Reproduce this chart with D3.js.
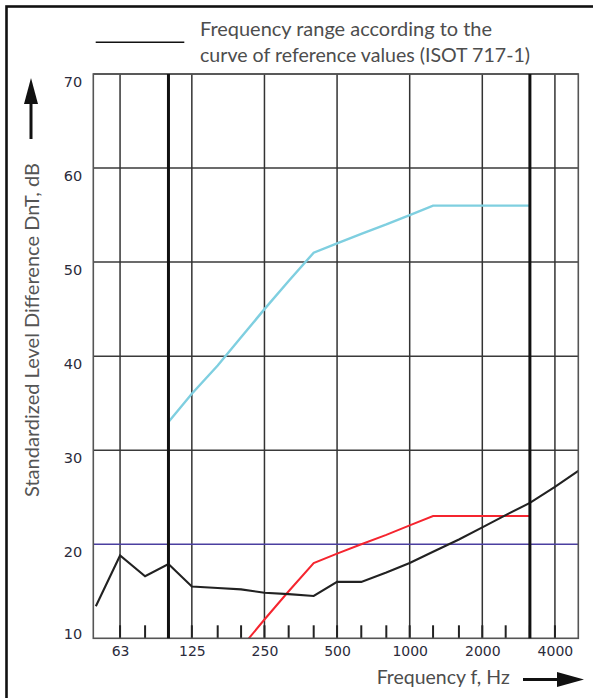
<!DOCTYPE html>
<html>
<head>
<meta charset="utf-8">
<script src="https://cdn.jsdelivr.net/npm/d3@7"></script>
<style>
  body { margin: 0; background: #fff; }
</style>
</head>
<body>
<div id="chart"></div>
<script>
// third-octave bands (Hz) and the measured curve
var bands = [50, 63, 80, 100, 125, 160, 200, 250, 315, 400, 500, 630, 800, 1000, 1250, 1600, 2000, 2500, 3150, 4000, 5000];
var measured = [13.4, 18.8, 16.6, 17.9, 15.5, 15.35, 15.2, 14.85, 14.7, 14.5, 16.0, 16.0, 17.0, 18.0, 19.2, 20.5, 21.8, 23.1, 24.4, 26.1, 27.8];

// reference curve (ISO 717-1) and the shifted reference
var refBands = [100, 125, 160, 200, 250, 315, 400, 500, 630, 800, 1000, 1250, 1600, 2000, 2500, 3150];
var reference = [33, 36, 39, 42, 45, 48, 51, 52, 53, 54, 55, 56, 56, 56, 56, 56];
var shifted = [0, 3, 6, 9, 12, 15, 18, 19, 20, 21, 22, 23, 23, 23, 23, 23];

// axes
var tickBands = [63, 80, 100, 125, 160, 200, 250, 315, 400, 500, 630, 800, 1000, 1250, 1600, 2000, 2500, 3150, 4000];
var labelFreqs = [63, 125, 250, 500, 1000, 2000, 4000];
var gridFreqs = [63, 125, 250, 500, 1000, 2000, 4000];
var rangeFreqs = [100, 3150];
var yTicks = [10, 20, 30, 40, 50, 60, 70];
var targetLevel = 20;

var W = 593, H = 698;
// plot box (note: "top" is reserved on window, so prefixed names)
var pLeft = 93.3, pRight = 578.3, pTop = 74, pBottom = 638.3;

var svg = d3.select("#chart")
  .append("svg")
    .attr("width", W)
    .attr("height", H)
    .style("display", "block");

svg.append("rect").attr("width", W).attr("height", H).attr("fill", "#fff");

// outer frame (runs off the right and bottom)
svg.append("rect")
  .attr("x", 6.5).attr("y", 6.5)
  .attr("width", 700).attr("height", 800)
  .attr("fill", "none")
  .attr("stroke", "#111")
  .attr("stroke-width", 2.6);

var x = d3.scaleLog().domain([48.8, 5000]).range([pLeft, pRight]);
var y = d3.scaleLinear().domain([10, 70]).range([pBottom, pTop]);

svg.append("defs").append("clipPath").attr("id", "plotclip")
  .append("rect")
    .attr("x", pLeft).attr("y", pTop)
    .attr("width", pRight - pLeft).attr("height", pBottom - pTop);

// horizontal grid
svg.append("g")
  .selectAll("line")
  .data(yTicks.filter(function(d) { return d !== 10 && d !== targetLevel; }))
  .enter()
  .append("line")
    .attr("x1", pLeft).attr("x2", pRight)
    .attr("y1", function(d) { return y(d); })
    .attr("y2", function(d) { return y(d); })
    .attr("stroke", "#3a3a3a")
    .attr("stroke-width", 1.5);

// vertical grid
svg.append("g")
  .selectAll("line")
  .data(gridFreqs)
  .enter()
  .append("line")
    .attr("x1", function(d) { return x(d); })
    .attr("x2", function(d) { return x(d); })
    .attr("y1", pTop).attr("y2", pBottom)
    .attr("stroke", "#333")
    .attr("stroke-width", 1.5);

// small third-octave ticks
svg.append("g")
  .selectAll("line")
  .data(tickBands)
  .enter()
  .append("line")
    .attr("x1", function(d) { return x(d); })
    .attr("x2", function(d) { return x(d); })
    .attr("y1", pBottom - 13).attr("y2", pBottom)
    .attr("stroke", "#222")
    .attr("stroke-width", 2);

// 20 dB line
svg.append("line")
  .attr("x1", pLeft).attr("x2", pRight)
  .attr("y1", y(targetLevel)).attr("y2", y(targetLevel))
  .attr("stroke", "#4b3fa0")
  .attr("stroke-width", 1.4);

var line = d3.line()
  .x(function(d) { return x(d[0]); })
  .y(function(d) { return y(d[1]); });

var curves = svg.append("g").attr("clip-path", "url(#plotclip)");

curves.append("path")
  .datum(d3.zip(refBands, reference))
  .attr("d", line)
  .attr("fill", "none")
  .attr("stroke", "#7fcfe0")
  .attr("stroke-width", 2.4);

curves.append("path")
  .datum(d3.zip(refBands, shifted))
  .attr("d", line)
  .attr("fill", "none")
  .attr("stroke", "#f5252f")
  .attr("stroke-width", 2);

curves.append("path")
  .datum(d3.zip(bands, measured))
  .attr("d", line)
  .attr("fill", "none")
  .attr("stroke", "#222")
  .attr("stroke-width", 2.1);

// plot border
svg.append("rect")
  .attr("x", pLeft).attr("y", pTop)
  .attr("width", pRight - pLeft).attr("height", pBottom - pTop)
  .attr("fill", "none")
  .attr("stroke", "#555")
  .attr("stroke-width", 1.6);

// thick lines marking the frequency range
svg.append("g")
  .selectAll("line")
  .data(rangeFreqs)
  .enter()
  .append("line")
    .attr("x1", function(d) { return x(d); })
    .attr("x2", function(d) { return x(d); })
    .attr("y1", pTop).attr("y2", pBottom)
    .attr("stroke", "#111")
    .attr("stroke-width", 3);

// y axis labels
var yAxis = svg.append("g")
  .attr("transform", "translate(" + pLeft + ",0)")
  .call(d3.axisLeft(y).tickValues(yTicks).tickSize(0).tickPadding(11));
yAxis.select(".domain").remove();
yAxis.selectAll("text")
  .attr("dy", function(d) { return d === 10 ? "0" : "12"; })
  .attr("font-family", "DejaVu Sans")
  .attr("font-size", 14.5)
  .attr("fill", "#2b2b3b");

// x axis labels
var xAxis = svg.append("g")
  .attr("transform", "translate(0," + pBottom + ")")
  .call(d3.axisBottom(x).tickValues(labelFreqs).tickFormat(d3.format("d")).tickSize(0));
xAxis.select(".domain").remove();
xAxis.selectAll("text")
  .attr("y", 18)
  .attr("dy", 0)
  .attr("font-family", "DejaVu Sans")
  .attr("font-size", 14)
  .attr("fill", "#2b2b3b");

// axis titles
svg.append("text")
  .attr("transform", "translate(38.5," + ((163 + 497) / 2) + ") rotate(-90)")
  .attr("text-anchor", "middle")
  .attr("font-family", "Lato")
  .attr("font-size", 19)
  .attr("fill", "#555")
  .attr("textLength", 334)
  .attr("lengthAdjust", "spacingAndGlyphs")
  .text("Standardized Level Difference DnT, dB");

svg.append("text")
  .attr("x", 376.7)
  .attr("y", 684)
  .attr("font-family", "Lato")
  .attr("font-size", 20)
  .attr("fill", "#4d4d4d")
  .attr("textLength", 133)
  .attr("lengthAdjust", "spacingAndGlyphs")
  .text("Frequency f, Hz");

// arrows
svg.append("line")
  .attr("x1", 31).attr("x2", 31).attr("y1", 139).attr("y2", 100)
  .attr("stroke", "#111").attr("stroke-width", 3);
svg.append("path")
  .attr("d", "M31,78 L38,104 L24,104 Z")
  .attr("fill", "#111");

svg.append("line")
  .attr("x1", 523).attr("x2", 560).attr("y1", 679.5).attr("y2", 679.5)
  .attr("stroke", "#111").attr("stroke-width", 3);
svg.append("path")
  .attr("d", "M584,679.5 L557,672 L557,687 Z")
  .attr("fill", "#111");

// legend
svg.append("line")
  .attr("x1", 95.7).attr("x2", 184.3).attr("y1", 42.3).attr("y2", 42.3)
  .attr("stroke", "#111").attr("stroke-width", 1.5);

svg.append("text")
  .attr("x", 200).attr("y", 36)
  .attr("font-family", "Lato")
  .attr("font-size", 19)
  .attr("fill", "#4d4d4d")
  .attr("textLength", 292)
  .attr("lengthAdjust", "spacingAndGlyphs")
  .text("Frequency range according to the");

svg.append("text")
  .attr("x", 200).attr("y", 61.5)
  .attr("font-family", "Lato")
  .attr("font-size", 19)
  .attr("fill", "#4d4d4d")
  .attr("textLength", 330)
  .attr("lengthAdjust", "spacingAndGlyphs")
  .text("curve of reference values (ISOT 717-1)");
</script>
</body>
</html>
